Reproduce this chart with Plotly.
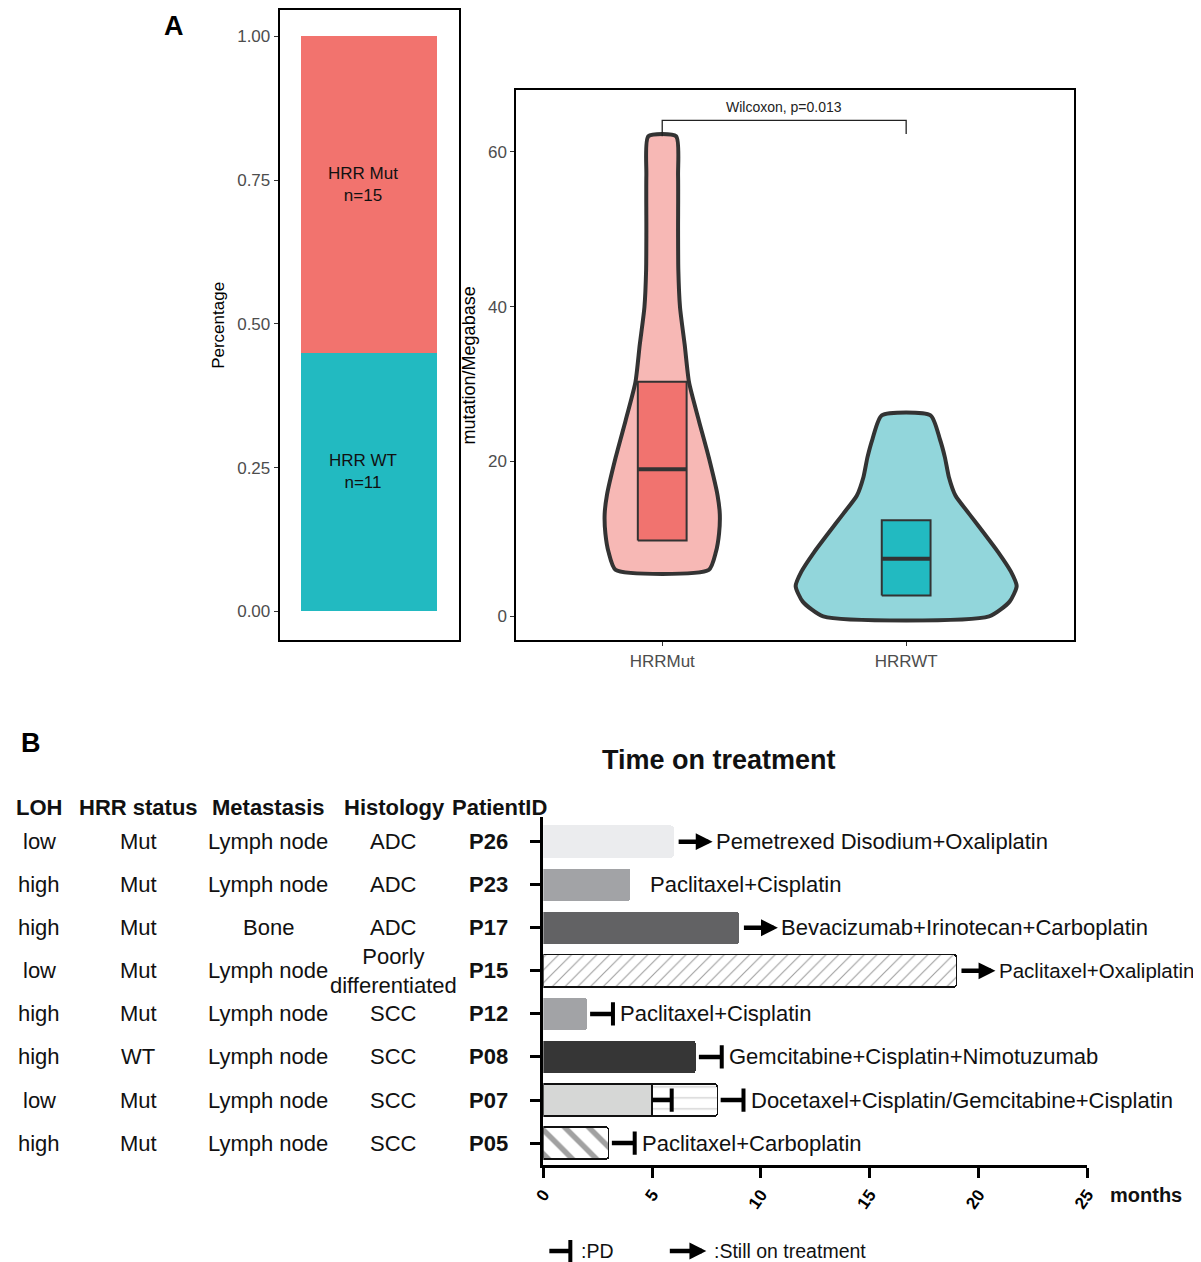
import plotly.graph_objects as go

# ---------------- panel A (left): share of HRR status ----------------
hrr_groups = ['HRR WT', 'HRR Mut']
hrr_n = [11, 15]
hrr_share = [0.45, 0.55]
hrr_colors = ['#22BAC1', '#F2736E']

# ---------------- panel A (right): TMB violins ----------------
tmb_groups = ['HRRMut', 'HRRWT']
mut_levels = [6.0, 8.3, 10.7, 13.2, 15.6, 20.5, 25.3, 30.2, 35.1, 39.9, 44.8, 49.7, 57.0, 62.0]
mut_halfw = [0.191, 0.220, 0.233, 0.236, 0.227, 0.191, 0.150, 0.110, 0.092, 0.073, 0.066, 0.065, 0.065, 0.057]
wt_levels = [0.0, 1.9, 3.9, 5.8, 8.3, 10.7, 13.2, 15.6, 18.0, 20.5, 22.9, 25.96]
wt_halfw = [0.340, 0.424, 0.453, 0.429, 0.377, 0.320, 0.259, 0.202, 0.175, 0.159, 0.138, 0.100]
box_q1 = [9.8, 2.7]
box_median = [19.0, 7.45]
box_q3 = [30.3, 12.4]
p_label = 'Wilcoxon, p=0.013'
bracket_y = [62.0, 64.05, 64.05, 62.3]

# ---------------- panel B: time on treatment ----------------
patients = ['P26', 'P23', 'P17', 'P15', 'P12', 'P08', 'P07', 'P05']
loh = ['low', 'high', 'high', 'low', 'high', 'high', 'low', 'high']
hrr_status = ['Mut', 'Mut', 'Mut', 'Mut', 'Mut', 'WT', 'Mut', 'Mut']
metastasis = ['Lymph node', 'Lymph node', 'Bone', 'Lymph node', 'Lymph node',
              'Lymph node', 'Lymph node', 'Lymph node']
histology = ['ADC', 'ADC', 'ADC', 'Poorly<br>differentiated', 'SCC', 'SCC', 'SCC', 'SCC']
months_first = [6, 4, 9, 19, 2, 7, 5, 3]
months_total = [6, 4, 9, 19, 2, 7, 8, 3]
first_line_pd = [None, None, None, None, None, None, 5.9, None]
outcome = ['ongoing', 'none', 'ongoing', 'ongoing', 'pd', 'pd', 'pd', 'pd']
regimens = ['Pemetrexed Disodium+Oxaliplatin', 'Paclitaxel+Cisplatin',
            'Bevacizumab+Irinotecan+Carboplatin', 'Paclitaxel+Oxaliplatin',
            'Paclitaxel+Cisplatin', 'Gemcitabine+Cisplatin+Nimotuzumab',
            'Docetaxel+Cisplatin/Gemcitabine+Cisplatin', 'Paclitaxel+Carboplatin']

FONT = 'Liberation Sans'
W, H = 1201, 1262
OFF = 8  # page margin around the plot div
rows = list(range(len(patients), 0, -1))


def px(x):
    # page pixel -> paper coordinate (corrected for the page margin / scaling seen in renders)
    f = (x - 10.7) / 0.9827 - OFF
    return min(max(f / W, 0), 1)


def py(y):
    return min(max(1 - (y - OFF) / H, 0), 1)


fig = go.Figure()

# --- A left: stacked proportion bar
for g, share, col in zip(hrr_groups, hrr_share, hrr_colors):
    fig.add_trace(go.Bar(x=[1], y=[share], marker_color=col, width=0.9,
                         marker_line_width=0, xaxis='x', yaxis='y'))
base = 0
for g, n, share in zip(hrr_groups, hrr_n, hrr_share):
    fig.add_annotation(x=1, y=base + share / 2, xref='x', yref='y', yshift=10, xshift=-6,
                       text=f'{g}<br>n={n}', showarrow=False, xanchor='center', yanchor='middle',
                       font=dict(family=FONT, size=17, color='#111'))
    base += share

# --- A right: violins + boxes
violin_fill = ['#F7B8B5', '#92D6DB']
box_fill = ['#F1736F', '#22BAC1']
profiles = [(mut_levels, mut_halfw), (wt_levels, wt_halfw)]
for i, (levels, halfw) in enumerate(profiles):
    c = i + 1
    xs = [c + w for w in halfw] + [c - w for w in halfw[::-1]] + [c + halfw[0]]
    ys = list(levels) + list(levels[::-1]) + [levels[0]]
    fig.add_trace(go.Scatter(x=xs, y=ys, mode='lines', fill='toself',
                             fillcolor=violin_fill[i],
                             line=dict(color='#333333', width=4, shape='spline', smoothing=0.6),
                             xaxis='x2', yaxis='y2', hoverinfo='skip'))
bw = 0.1
for i in range(len(tmb_groups)):
    c = i + 1
    fig.add_trace(go.Scatter(x=[c - bw, c + bw, c + bw, c - bw, c - bw],
                             y=[box_q1[i], box_q1[i], box_q3[i], box_q3[i], box_q1[i]],
                             mode='lines', fill='toself', fillcolor=box_fill[i],
                             line=dict(color='#333333', width=2),
                             xaxis='x2', yaxis='y2'))
    fig.add_trace(go.Scatter(x=[c - bw, c + bw], y=[box_median[i], box_median[i]],
                             mode='lines', line=dict(color='#333333', width=4),
                             xaxis='x2', yaxis='y2'))
fig.add_trace(go.Scatter(x=[1, 1, 2, 2], y=bracket_y, mode='lines',
                         line=dict(color='#222', width=1.3), xaxis='x2', yaxis='y2'))
fig.add_annotation(x=1.5, y=bracket_y[1], xref='x2', yref='y2', yanchor='bottom', yshift=3,
                   text=p_label, showarrow=False, font=dict(family=FONT, size=14, color='#222'))

# --- B: bars (solid bars have soft corners, outlined/hatched ones are square)
bar_fill = ['#EBECEE', '#A2A3A6', '#626264', '#FFFFFF', '#A2A3A6', '#363636', '#D6D7D6', '#FFFFFF']
pat_shape = ['', '', '', '/', '', '', '', '\\']
pat_fg = ['#000', '#000', '#000', '#8C8C8C', '#000', '#000', '#000', '#8A8A8A']
pat_size = [8, 8, 8, 9, 8, 8, 8, 17]
pat_solid = [0.3, 0.3, 0.3, 0.13, 0.3, 0.3, 0.3, 0.32]
line_w = [0, 0, 0, 1.6, 0, 0, 1.6, 1.6]
for outlined in (False, True):
    idx = [i for i in range(len(patients)) if (line_w[i] > 0) == outlined]
    fig.add_trace(go.Bar(y=[rows[i] for i in idx], x=[months_first[i] for i in idx],
                         orientation='h', width=0.75,
                         marker=dict(color=[bar_fill[i] for i in idx],
                                     cornerradius=0 if outlined else 3,
                                     line=dict(color='#111', width=[line_w[i] for i in idx]),
                                     pattern=dict(shape=[pat_shape[i] for i in idx],
                                                  fgcolor=[pat_fg[i] for i in idx],
                                                  size=[pat_size[i] for i in idx],
                                                  solidity=[pat_solid[i] for i in idx],
                                                  fillmode='overlay')),
                         xaxis='x3', yaxis='y3'))
second_rows = [r for r, a, b in zip(rows, months_first, months_total) if b > a]
second_len = [b - a for a, b in zip(months_first, months_total) if b > a]
fig.add_trace(go.Bar(y=second_rows, x=second_len, orientation='h', width=0.75,
                     marker=dict(color='#FFFFFF', line=dict(color='#111', width=1.6),
                                 pattern=dict(shape='-', fgcolor='#A0A0A0', size=11,
                                              solidity=0.12, fillmode='overlay')),
                     xaxis='x3', yaxis='y3'))

shapes = []


def pd_mark(x0, x1, r):
    shapes.append(dict(type='line', xref='x3', yref='y3', x0=x0, x1=x1, y0=r, y1=r,
                       line=dict(color='black', width=4.5), layer='above'))
    shapes.append(dict(type='line', xref='x3', yref='y3', x0=x1, x1=x1, y0=r - 0.27, y1=r + 0.27,
                       line=dict(color='black', width=4), layer='above'))


text_gap = {'ongoing': 1.85, 'pd': 1.45, 'none': 0.8}
for r, first, tot, pdm, oc, reg in zip(rows, months_first, months_total, first_line_pd, outcome, regimens):
    if pdm is not None:
        pd_mark(first, pdm, r)
    if oc == 'pd':
        pd_mark(tot + 0.15, tot + 1.2, r)
    elif oc == 'ongoing':
        fig.add_annotation(x=tot + 1.78, y=r, ax=tot + 0.15, ay=r, xref='x3', yref='y3',
                           axref='x3', ayref='y3', text='', showarrow=True, arrowhead=2,
                           arrowwidth=4.5, arrowsize=0.75, arrowcolor='black')
    tx = tot + text_gap[oc]
    # labels starting far right are shrunk a little so they stay on the page
    size = 20.5 if tx > 18 else 22
    fig.add_annotation(x=tx, y=r, xref='x3', yref='y3', xanchor='left',
                       yanchor='middle', text=reg, showarrow=False,
                       font=dict(family=FONT, size=size, color='#111'))

# --- B: table on the left
col_x = [39, 138, 268, 393, 488]
head_x = [39, 138, 268, 394, 499]
headers = ['LOH', 'HRR status', 'Metastasis', 'Histology', 'PatientID']
for hx, h in zip(head_x, headers):
    fig.add_annotation(x=px(hx), y=py(807), xref='paper', yref='paper', text=f'<b>{h}</b>',
                       xanchor='center', yanchor='middle', showarrow=False,
                       font=dict(family=FONT, size=22, color='#111'))
columns = [loh, hrr_status, metastasis, histology, [f'<b>{p}</b>' for p in patients]]
for cx, col in zip(col_x, columns):
    for r, val in zip(rows, col):
        fig.add_annotation(x=px(cx), y=r, xref='paper', yref='y3', text=val, showarrow=False,
                           xanchor='center', yanchor='middle',
                           font=dict(family=FONT, size=22, color='#111'))

fig.add_annotation(x=px(719), y=py(760), xref='paper', yref='paper', text='<b>Time on treatment</b>',
                   xanchor='center', yanchor='middle', showarrow=False,
                   font=dict(family=FONT, size=27, color='#111'))
fig.add_annotation(x=px(1108), y=py(1195), xref='paper', yref='paper', xanchor='left',
                   yanchor='middle', text='<b>months</b>', showarrow=False,
                   font=dict(family=FONT, size=20, color='#111'))

# legend of markers
shapes.append(dict(type='line', xref='paper', yref='paper', x0=px(549), x1=px(570),
                   y0=py(1251), y1=py(1251), line=dict(color='black', width=4.5)))
shapes.append(dict(type='line', xref='paper', yref='paper', x0=px(570), x1=px(570),
                   y0=py(1240), y1=py(1262), line=dict(color='black', width=4)))
fig.add_annotation(x=px(579), y=py(1251), xref='paper', yref='paper', xanchor='left',
                   yanchor='middle', text=':PD', showarrow=False,
                   font=dict(family=FONT, size=19.5, color='#111'))
fig.add_annotation(x=px(706), y=py(1251), xref='paper', yref='paper', ax=-38, ay=0, text='',
                   showarrow=True, arrowhead=2, arrowwidth=4.5, arrowsize=0.75, arrowcolor='black')
fig.add_annotation(x=px(712), y=py(1251), xref='paper', yref='paper', xanchor='left',
                   yanchor='middle', text=':Still on treatment', showarrow=False,
                   font=dict(family=FONT, size=19.5, color='#111'))

# panel letters
fig.add_annotation(x=px(162), y=1, xref='paper', yref='paper', xanchor='left', yanchor='top',
                   text='<b>A</b>', showarrow=False, font=dict(family=FONT, size=27, color='black'))
fig.add_annotation(x=0, y=py(726), xref='paper', yref='paper', xanchor='left', yanchor='top',
                   text='<b>B</b>', showarrow=False, font=dict(family=FONT, size=27, color='black'))

gg_tick = dict(family=FONT, size=17, color='#4D4D4D')
frame = dict(showline=True, linecolor='black', linewidth=2, mirror=True, showgrid=False, zeroline=False)

fig.update_layout(
    width=W, height=H, margin=dict(l=0, r=0, t=0, b=0),
    paper_bgcolor='white', plot_bgcolor='white', showlegend=False, barmode='stack',
    font=dict(family=FONT),
    shapes=shapes,
    xaxis=dict(domain=[px(279.3), px(458.3)], range=[0.409, 1.591], showticklabels=False,
               ticks='', anchor='y', **frame),
    yaxis=dict(domain=[py(640), 0.999], range=[-0.0508, 1.0456], anchor='x',
               tickvals=[0, 0.25, 0.5, 0.75, 1], tickformat='.2f', ticks='outside', ticklen=4,
               tickcolor='#333', tickfont=gg_tick,
               title=dict(text='Percentage', standoff=8, font=dict(family=FONT, size=17, color='black')),
               **frame),
    xaxis2=dict(domain=[px(516), px(1074)], range=[0.402, 2.689], tickvals=[1, 2], anchor='y2',
                ticktext=tmb_groups, ticks='outside', ticklen=4, tickcolor='#333',
                tickfont=dict(family=FONT, size=17, color='#4D4D4D'), **frame),
    yaxis2=dict(domain=[py(640), py(89.3)], range=[-3.12, 67.94], tickvals=[0, 20, 40, 60],
                anchor='x2', ticks='outside', ticklen=4, tickcolor='#333', tickfont=gg_tick,
                title=dict(text='mutation/Megabase', standoff=8,
                           font=dict(family=FONT, size=18, color='black')),
                **frame),
    xaxis3=dict(domain=[px(543), px(1087)], range=[0, 25], tickvals=[0, 5, 10, 15, 20, 25],
                ticks='outside', ticklen=10, tickwidth=3, tickcolor='black', tickangle=-55,
                tickfont=dict(family=FONT, size=17, color='black', weight='bold'),
                showline=True, linecolor='black', linewidth=3, showgrid=False, zeroline=False,
                anchor='y3'),
    yaxis3=dict(domain=[py(1165), py(817)], range=[0.49, 8.564], tickvals=rows,
                showticklabels=False, ticks='outside', ticklen=10, tickwidth=3, tickcolor='black',
                showline=True, linecolor='black', linewidth=3, showgrid=False, zeroline=False,
                anchor='x3'),
)

fig.write_html('out.html')
